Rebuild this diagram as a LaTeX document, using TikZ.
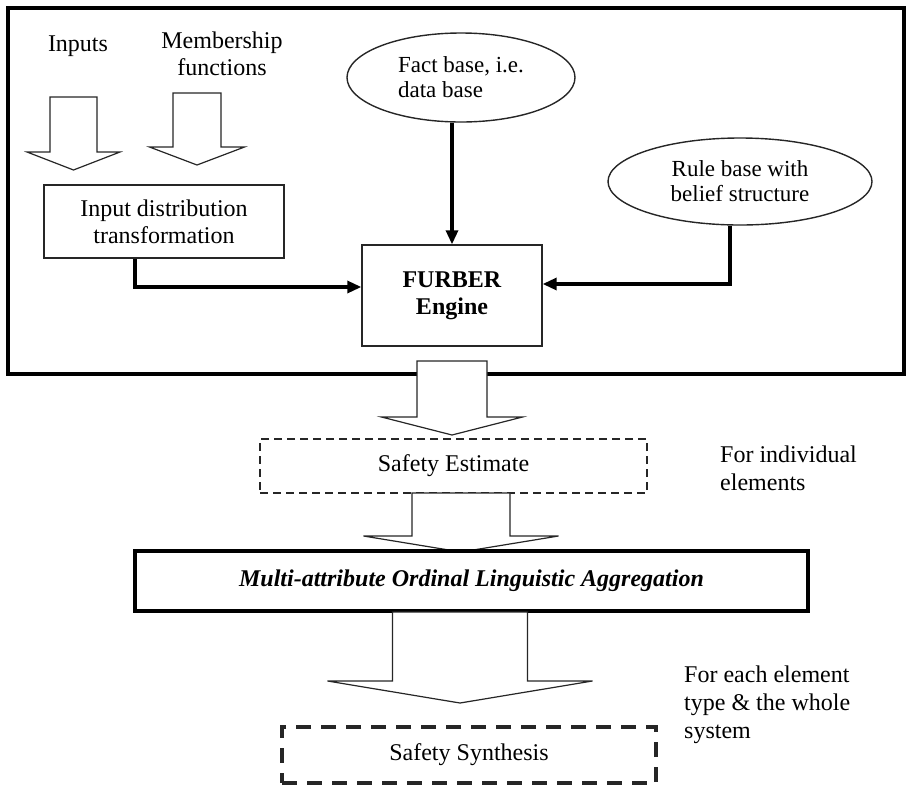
\documentclass[tikz,border=0pt]{standalone}
\usepackage{fontspec}
\setmainfont{Liberation Serif}
\usetikzlibrary{arrows.meta,positioning,calc,shapes.geometric}

% hollow block arrow pointing down: x, top, half shaft, head base, half head, tip
\newcommand{\hollowdown}[6]{%
  \draw[hollow] (#1-#3,#2) -- (#1-#3,#4) -- (#1-#5,#4) -- (#1,#6)
    -- (#1+#5,#4) -- (#1+#3,#4) -- (#1+#3,#2) -- cycle;}

\begin{document}
\begin{tikzpicture}[x=1pt,y=-1pt,
  every node/.style={font=\fontsize{24}{27}\selectfont,inner sep=0pt},
  box/.style={draw=black!85,line width=1.4pt,align=center},
  base/.style={draw=black!85,line width=1.4pt,ellipse,align=left,
               font=\fontsize{23}{25}\selectfont},
  hollow/.style={draw=black!85,fill=white,line width=1.2pt},
  conn/.style={line width=3.2pt,-{Triangle[width=12pt,length=14pt]}},
  note/.style={align=left,anchor=base west,
               font=\fontsize{24}{28}\selectfont}]
  \useasboundingbox (0,0) rectangle (909,785);

  % outer frame
  \draw[line width=3.8pt] (8,8) rectangle (904,374);

  \node (inp) at (78,46) {Inputs};
  \node[align=center] (mem) at (222,54) {Membership\\functions};
  \hollowdown{73.5}{97}{23.5}{152}{46.5}{170}
  \hollowdown{197}{93}{24}{147}{47.5}{165}

  \node[box,minimum width=240pt,minimum height=73pt] (idt) at (164,221.5)
        {Input distribution\\transformation};
  \node[box,minimum width=180pt,minimum height=101pt] (furber) at (452,295.5)
        {\textbf{FURBER}\\\textbf{Engine}};
  \node[base,minimum width=228pt,minimum height=89pt] (fact) at (461,77.5)
        {Fact base, i.e.\\data base};
  \node[base,align=center,minimum width=264pt,minimum height=87pt] (rule)
        at (740,181.5) {Rule base with\\belief structure};

  \draw[conn] (fact.south -| furber.north) -- (furber.north);
  \draw[conn] ([xshift=-29pt]idt.south) |- ([yshift=8.5pt]furber.west);
  \draw[conn] ([xshift=-10pt]rule.south) |- ([yshift=11.5pt]furber.east);

  \hollowdown{452}{361}{35}{417}{70.5}{435}
  \node[box,dash pattern=on 8pt off 5pt,minimum width=387pt,minimum height=54pt]
        (est) at (453.5,466) {Safety Estimate};
  \node[note] (indiv) at (720,490) {For individual\\elements};

  \hollowdown{461}{493}{49}{536}{97.5}{552}
  \node[draw,line width=3.8pt,minimum width=673pt,minimum height=60pt]
        (mola) at (471.5,581)
        {\textbf{\textit{Multi-attribute Ordinal Linguistic Aggregation}}};

  \hollowdown{460}{612}{67.5}{681}{132.5}{703}
  \node[box,line width=3.2pt,dash pattern=on 15pt off 10pt,
        minimum width=374pt,minimum height=56pt] (synth) at (469,755)
        {Safety Synthesis};
  \node[note] (each) at (684,738) {For each element\\type \& the whole\\system};
\end{tikzpicture}
\end{document}
